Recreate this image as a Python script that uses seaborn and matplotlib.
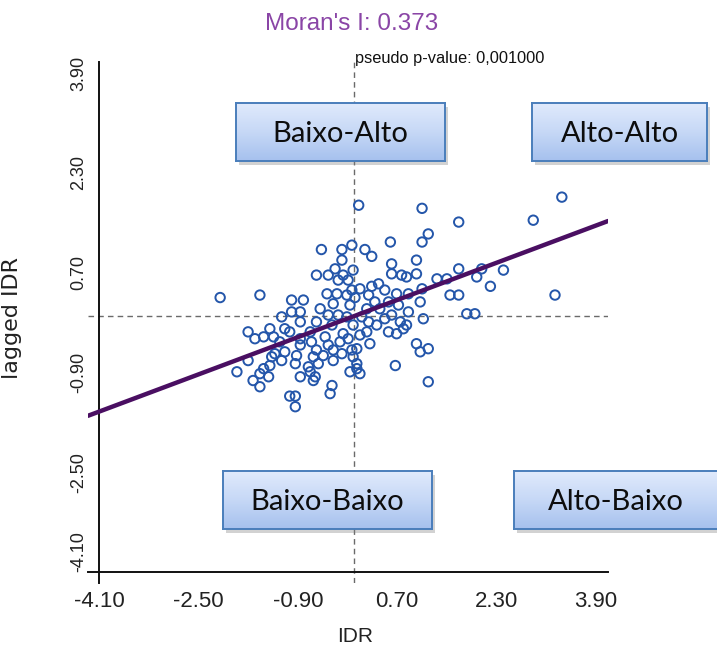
import numpy as np
import pandas as pd
import matplotlib
matplotlib.use("Agg")
import matplotlib.pyplot as plt
import seaborn as sns
from matplotlib.patches import Rectangle

# ---- values ---------------------------------------------------------------
moran_i = 0.373
p_value_text = "pseudo p-value: 0,001000"
tick_values = [-4.10, -2.50, -0.90, 0.70, 2.30, 3.90]
tick_labels = ["-4.10", "-2.50", "-0.90", "0.70", "2.30", "3.90"]
quadrant_labels = ["Baixo-Alto", "Alto-Alto", "Baixo-Baixo", "Alto-Baixo"]

idr = [
    3.35, 0.08, 1.10, 2.89, 1.69, 1.20, 0.59, 1.10, -0.03, -0.52, -0.19, 0.18, 0.29, -0.19, 1.01, 0.61,
    -0.30, 1.69, 2.06, -0.01, 2.41, 0.61, 1.01, -0.60, -0.41, -0.17, 0.77, 0.85, 1.98, 1.34, 1.50,
    -0.25, -0.09, 0.40, 2.20, 0.29, 0.10, 1.10, -0.03, 0.50, -0.43, -0.27, 0.69, 0.88,
    -1.51, 1.55, 1.69, 3.24, -0.11, 0.24, -2.15, 0.02, -1.00, -0.81, 1.07, 0.34, 0.56, -0.33,
    -0.06, 0.72, -0.54, 0.21, 0.42, -1.00, -0.86, 0.88, 1.82, 1.95, -0.41, -0.25, 0.61,
    -1.16, -0.11, 0.13, 1.12, 0.50, -0.86, -0.60, 0.24, 0.75, -0.35, -0.01, 0.37, 0.85,
    -1.35, -1.11, 0.80, -1.70, -1.03, -0.70, 0.21, 0.56, -0.17, 0.69, 0.10,
    -1.45, -1.29, -0.46, -1.59, -0.86, -0.09, -1.19, -0.68, -0.22, 0.26, 1.01, -0.86, -0.41,
    1.20, 0.05, -0.60, -0.33, -0.03, 1.07, -1.11, -1.27, -0.19, -0.49, -0.92, -1.32, -0.65, -0.01,
    -1.70, -1.16, -0.33, -0.94, -0.57, 0.05, 0.67, -1.35, -0.73, -1.45, 0.05, -1.88, -0.70, -0.06,
    -1.51, 0.10, -1.37, -0.86, -0.62, -1.62, -0.65, 1.20, -0.35, -1.51, -0.38, -1.03, -0.94, -0.94,
]
lagged_idr = [
    1.91, 1.78, 1.73, 1.54, 1.51, 1.32, 1.19, 1.19, 1.14, 1.07, 1.07, 1.07, 0.96, 0.90, 0.90, 0.84,
    0.76, 0.76, 0.76, 0.74, 0.74, 0.68, 0.68, 0.66, 0.66, 0.66, 0.66, 0.63, 0.63, 0.60, 0.60,
    0.58, 0.58, 0.52, 0.48, 0.48, 0.44, 0.44, 0.42, 0.42, 0.36, 0.36, 0.36, 0.36,
    0.34, 0.34, 0.34, 0.34, 0.34, 0.34, 0.30, 0.30, 0.26, 0.26, 0.23, 0.23, 0.23, 0.20,
    0.18, 0.18, 0.12, 0.12, 0.12, 0.07, 0.07, 0.07, 0.04, 0.04, 0.02, 0.02, 0.02,
    -0.01, -0.01, -0.01, -0.04, -0.04, -0.09, -0.09, -0.09, -0.09, -0.14, -0.14, -0.14, -0.14,
    -0.20, -0.20, -0.20, -0.25, -0.25, -0.25, -0.25, -0.25, -0.28, -0.28, -0.30,
    -0.33, -0.33, -0.33, -0.36, -0.36, -0.36, -0.41, -0.41, -0.41, -0.44, -0.44, -0.46, -0.46,
    -0.52, -0.52, -0.54, -0.54, -0.54, -0.57, -0.57, -0.60, -0.60, -0.63, -0.63, -0.65, -0.65, -0.65,
    -0.71, -0.71, -0.71, -0.76, -0.76, -0.76, -0.79, -0.79, -0.81, -0.84, -0.84, -0.89, -0.89, -0.89,
    -0.92, -0.92, -0.97, -0.97, -0.97, -1.03, -1.03, -1.05, -1.11, -1.13, -1.24, -1.28, -1.28, -1.45,
]

df = pd.DataFrame({"IDR": idr, "lagged IDR": lagged_idr})

# ---- figure ---------------------------------------------------------------
sns.set_theme(style="white")
plt.rcParams["font.family"] = ["Liberation Sans", "DejaVu Sans"]

W, H = 717, 657
fig = plt.figure(figsize=(W / 100, H / 100), dpi=100)
fig.patch.set_facecolor("white")


def px_rect(x0, y0, x1, y1):
    return [x0 / W, 1 - y1 / H, (x1 - x0) / W, (y1 - y0) / H]


ax = fig.add_axes(px_rect(88, 62, 608, 583))
ax.set_facecolor("none")
xlim = (-4.277, 4.093)
ylim = (-4.276, 4.076)

# reference lines through the means
ax.axvline(0, color="#6a6a6a", lw=1.0, ls=(0, (4, 3)), zorder=1)
ax.axhline(0, color="#6a6a6a", lw=1.0, ls=(0, (4, 3)), zorder=1)

sns.scatterplot(data=df, x="IDR", y="lagged IDR", ax=ax, marker="o", s=46,
                facecolor="none", edgecolor="#2456aa", linewidth=1.4, zorder=3)

# regression line with slope = Moran's I
line_x = np.array(xlim)
sns.lineplot(x=line_x, y=moran_i * line_x, ax=ax, color="#4a0f62", lw=3.2, zorder=4)

ax.set_xlim(*xlim)
ax.set_ylim(*ylim)
for side in ("top", "right"):
    ax.spines[side].set_visible(False)
ax.spines["left"].set_position(("data", -4.10))
ax.spines["bottom"].set_position(("data", -4.10))
for side in ("left", "bottom"):
    ax.spines[side].set_color("#111111")
    ax.spines[side].set_linewidth(1.4)

ax.set_xticks(tick_values)
ax.set_xticklabels(tick_labels, fontsize=16, color="#222222")
ax.set_yticks(tick_values)
ax.set_yticklabels(tick_labels, fontsize=13, color="#222222", rotation=90, va="center")
ax.tick_params(axis="both", direction="out", length=7.5, width=1.4, color="#111111")
ax.tick_params(axis="x", pad=6)
ax.tick_params(axis="y", pad=1)
# keep the lowest y number clear of the lowest x number at the corner
ax.get_yticklabels()[0].set_va("bottom")
ax.get_yticklabels()[0].set_y(-4.10 - 0.0)
ax.set_xlabel("IDR", fontsize=15, color="#222222")
ax.set_ylabel("lagged IDR", fontsize=16, color="#222222", family="DejaVu Sans")
ax.xaxis.set_label_coords((355 - 88) / 520, (583 - 627) / 521)
ax.yaxis.set_label_coords((22 - 88) / 520, (583 - 318) / 521)

fig.text(352 / W, 1 - 24 / H, f"Moran's I: {moran_i:.3f}", ha="center", va="center",
         fontsize=17.5, color="#8a45a6")
fig.text(355 / W, 1 - 58 / H, p_value_text, ha="left", va="center",
         fontsize=11.8, color="#111111")

# ---- quadrant boxes -------------------------------------------------------
gradient = np.linspace(0, 1, 64).reshape(-1, 1)
grad_cmap = matplotlib.colors.LinearSegmentedColormap.from_list(
    "box", ["#e0eafc", "#c6d8f6", "#a6c1ee"])

box_positions = [(236, 103, 445, 161), (532, 103, 707, 161),
                 (223, 471, 432, 529), (514, 471, 730, 529)]

for label, (x0, y0, x1, y1) in zip(quadrant_labels, box_positions):
    shadow = Rectangle(((x0 + 3) / W, 1 - (y1 + 4) / H), (x1 - x0) / W, (y1 - y0) / H,
                       transform=fig.transFigure, facecolor="#7f7f7f", alpha=0.35,
                       edgecolor="none", zorder=5)
    fig.patches.append(shadow)
    bax = fig.add_axes(px_rect(x0, y0, x1, y1), zorder=6)
    bax.imshow(gradient, aspect="auto", cmap=grad_cmap, extent=(0, 1, 0, 1))
    bax.set_xlim(0, 1)
    bax.set_ylim(0, 1)
    bax.set_xticks([])
    bax.set_yticks([])
    for sp in bax.spines.values():
        sp.set_color("#4a7ebb")
        sp.set_linewidth(1.4)
    tx = 0.5 if x1 <= W else (0.5 * (717 - x0) / (x1 - x0))
    bax.text(tx, 0.47, label, ha="center", va="center", fontsize=21,
             family=["Lato", "DejaVu Sans"], color="#0d0d0d")

fig.savefig("out.png", dpi=100, facecolor="white")
